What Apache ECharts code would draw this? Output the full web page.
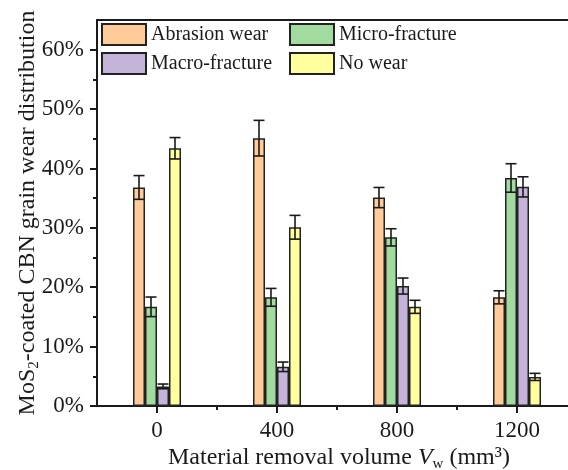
<!DOCTYPE html>
<html>
<head>
<meta charset="utf-8">
<script src="https://cdn.jsdelivr.net/npm/echarts@6/dist/echarts.min.js"></script>
<style>
html,body{margin:0;padding:0;background:#fff;}
#c{width:568px;height:470px;}
</style>
</head>
<body>
<div id="c"></div>
<script>
// ---- data ----
const volumes = [0, 400, 800, 1200];
const seriesNames = ['Abrasion wear', 'Micro-fracture', 'Macro-fracture', 'No wear'];
const abrasion = [36.8, 45.1, 35.1, 18.3];
const microFrac = [16.7, 18.3, 28.4, 38.4];
const macroFrac = [3.3, 6.6, 20.2, 36.9];
const noWear = [43.4, 30.1, 16.7, 4.9];
const abrasionErr = [2.0, 3.0, 1.7, 1.1];
const microFracErr = [1.65, 1.5, 1.45, 2.4];
const macroFracErr = [0.4, 0.8, 1.35, 1.7];
const noWearErr = [1.8, 2.0, 1.1, 0.6];
const xTickLabels = [0, 400, 800, 1200];
const xMinorTicks = [200, 600, 1000];
const yTickLabels = [0, 10, 20, 30, 40, 50, 60];
const yMinorTicks = [5, 15, 25, 35, 45, 55];

const values = [abrasion, microFrac, macroFrac, noWear];
const errors = [abrasionErr, microFracErr, macroFracErr, noWearErr];
const colors = ['#FFCB99', '#A1DBA0', '#C5B4DA', '#FFFF9E'];
const BAR_W = 12;
const FONT = 'Liberation Serif';
const INK = '#1a1a1a';

const chart = echarts.init(document.getElementById('c'), null, {renderer: 'canvas'});

const barSeries = seriesNames.map((name, k) => ({
  name: name,
  type: 'bar',
  xAxisIndex: 0,
  yAxisIndex: 0,
  barWidth: BAR_W,
  barGap: '0%',
  itemStyle: {color: colors[k], borderColor: '#222', borderWidth: 1.5},
  data: volumes.map((v, i) => [v, values[k][i]]),
  z: 2
}));

const errData = [];
seriesNames.forEach((name, k) => {
  volumes.forEach((v, i) => errData.push([v, values[k][i], errors[k][i], k]));
});

const errSeries = {
  type: 'custom',
  xAxisIndex: 0,
  yAxisIndex: 0,
  z: 5,
  silent: true,
  data: errData,
  renderItem: function (params, api) {
    const x = api.value(0), y = api.value(1), e = api.value(2), k = api.value(3);
    const cx = api.coord([x, y])[0] + (k - 1.5) * BAR_W;
    const yt = api.coord([x, y + e])[1];
    const yb = api.coord([x, y - e])[1];
    const h = BAR_W / 2 - 0.5;
    const st = {stroke: '#1a1a1a', lineWidth: 1.6};
    return {
      type: 'group',
      children: [
        {type: 'line', shape: {x1: cx, y1: yt, x2: cx, y2: yb}, style: st},
        {type: 'line', shape: {x1: cx - h, y1: yt, x2: cx + h, y2: yt}, style: st},
        {type: 'line', shape: {x1: cx - h, y1: yb, x2: cx + h, y2: yb}, style: st}
      ]
    };
  }
};

const legendCommon = {
  orient: 'vertical',
  top: 23,
  padding: 0,
  itemWidth: 44,
  itemHeight: 21,
  itemGap: 6,
  icon: 'rect',
  textStyle: {fontFamily: FONT, fontSize: 20, color: INK, lineHeight: 22},
  selectedMode: false
};

const option = {
  animation: false,
  backgroundColor: '#fff',
  textStyle: {fontFamily: FONT, color: INK},
  grid: {left: 97, right: -9, top: 20, bottom: 64, containLabel: false, outerBoundsMode: 'none'},
  legend: [
    Object.assign({}, legendCommon, {left: 101, data: [seriesNames[0], seriesNames[2]]}),
    Object.assign({}, legendCommon, {left: 289, data: [seriesNames[1], seriesNames[3]]})
  ],
  xAxis: [
    {
      type: 'value', position: 'bottom', min: -200, max: 1400,
      axisLine: {show: true, onZero: false, lineStyle: {color: INK, width: 2}},
      axisTick: {show: true, length: 7, lineStyle: {color: INK, width: 2}, customValues: xTickLabels},
      axisLabel: {show: true, customValues: xTickLabels, formatter: function (v) { return String(v); }, fontFamily: FONT, fontSize: 23, color: INK, margin: 13},
      splitLine: {show: false}
    },
    {
      type: 'value', position: 'bottom', min: -200, max: 1400,
      axisLine: {show: false, onZero: false},
      axisTick: {show: true, length: 4, lineStyle: {color: INK, width: 2}, customValues: xMinorTicks},
      axisLabel: {show: false},
      splitLine: {show: false}
    },
    {
      type: 'value', position: 'top', min: -200, max: 1400,
      axisLine: {show: true, onZero: false, lineStyle: {color: INK, width: 2}},
      axisTick: {show: false}, axisLabel: {show: false}, splitLine: {show: false}
    }
  ],
  yAxis: [
    {
      type: 'value', position: 'left', min: 0, max: 65,
      axisLine: {show: true, onZero: false, lineStyle: {color: INK, width: 2}},
      axisTick: {show: true, length: 7, lineStyle: {color: INK, width: 2}, customValues: yTickLabels},
      axisLabel: {show: true, customValues: yTickLabels, formatter: function (v) { return v + '%'; }, fontFamily: FONT, fontSize: 23, color: INK, margin: 13},
      splitLine: {show: false},
      name: '{a|MoS}{s|2}{a|-coated CBN grain wear distribution}',
      nameLocation: 'middle',
      nameGap: 55,
      nameMoveOverlap: false,
      nameTextStyle: {
        fontFamily: FONT, fontSize: 24, color: INK,
        rich: {
          a: {fontFamily: FONT, fontSize: 24, color: INK},
          s: {fontFamily: FONT, fontSize: 15, color: INK, padding: [13, 0, 0, 0]}
        }
      }
    },
    {
      type: 'value', position: 'left', min: 0, max: 65,
      axisLine: {show: false, onZero: false},
      axisTick: {show: true, length: 4, lineStyle: {color: INK, width: 2}, customValues: yMinorTicks},
      axisLabel: {show: false},
      splitLine: {show: false}
    }
  ],
  graphic: [{
    type: 'text',
    left: 168,
    top: 446,
    style: {
      text: '{a|Material removal volume }{i|V}{s|w}{a| (mm³)}',
      fill: INK,
      rich: {
        a: {fontFamily: FONT, fontSize: 24, fill: INK},
        i: {fontFamily: FONT, fontSize: 24, fontStyle: 'italic', fill: INK},
        s: {fontFamily: FONT, fontSize: 15, fill: INK, padding: [13, 0, 0, 0]}
      }
    }
  }],
  series: barSeries.concat([errSeries])
};

chart.setOption(option);
</script>
</body>
</html>
